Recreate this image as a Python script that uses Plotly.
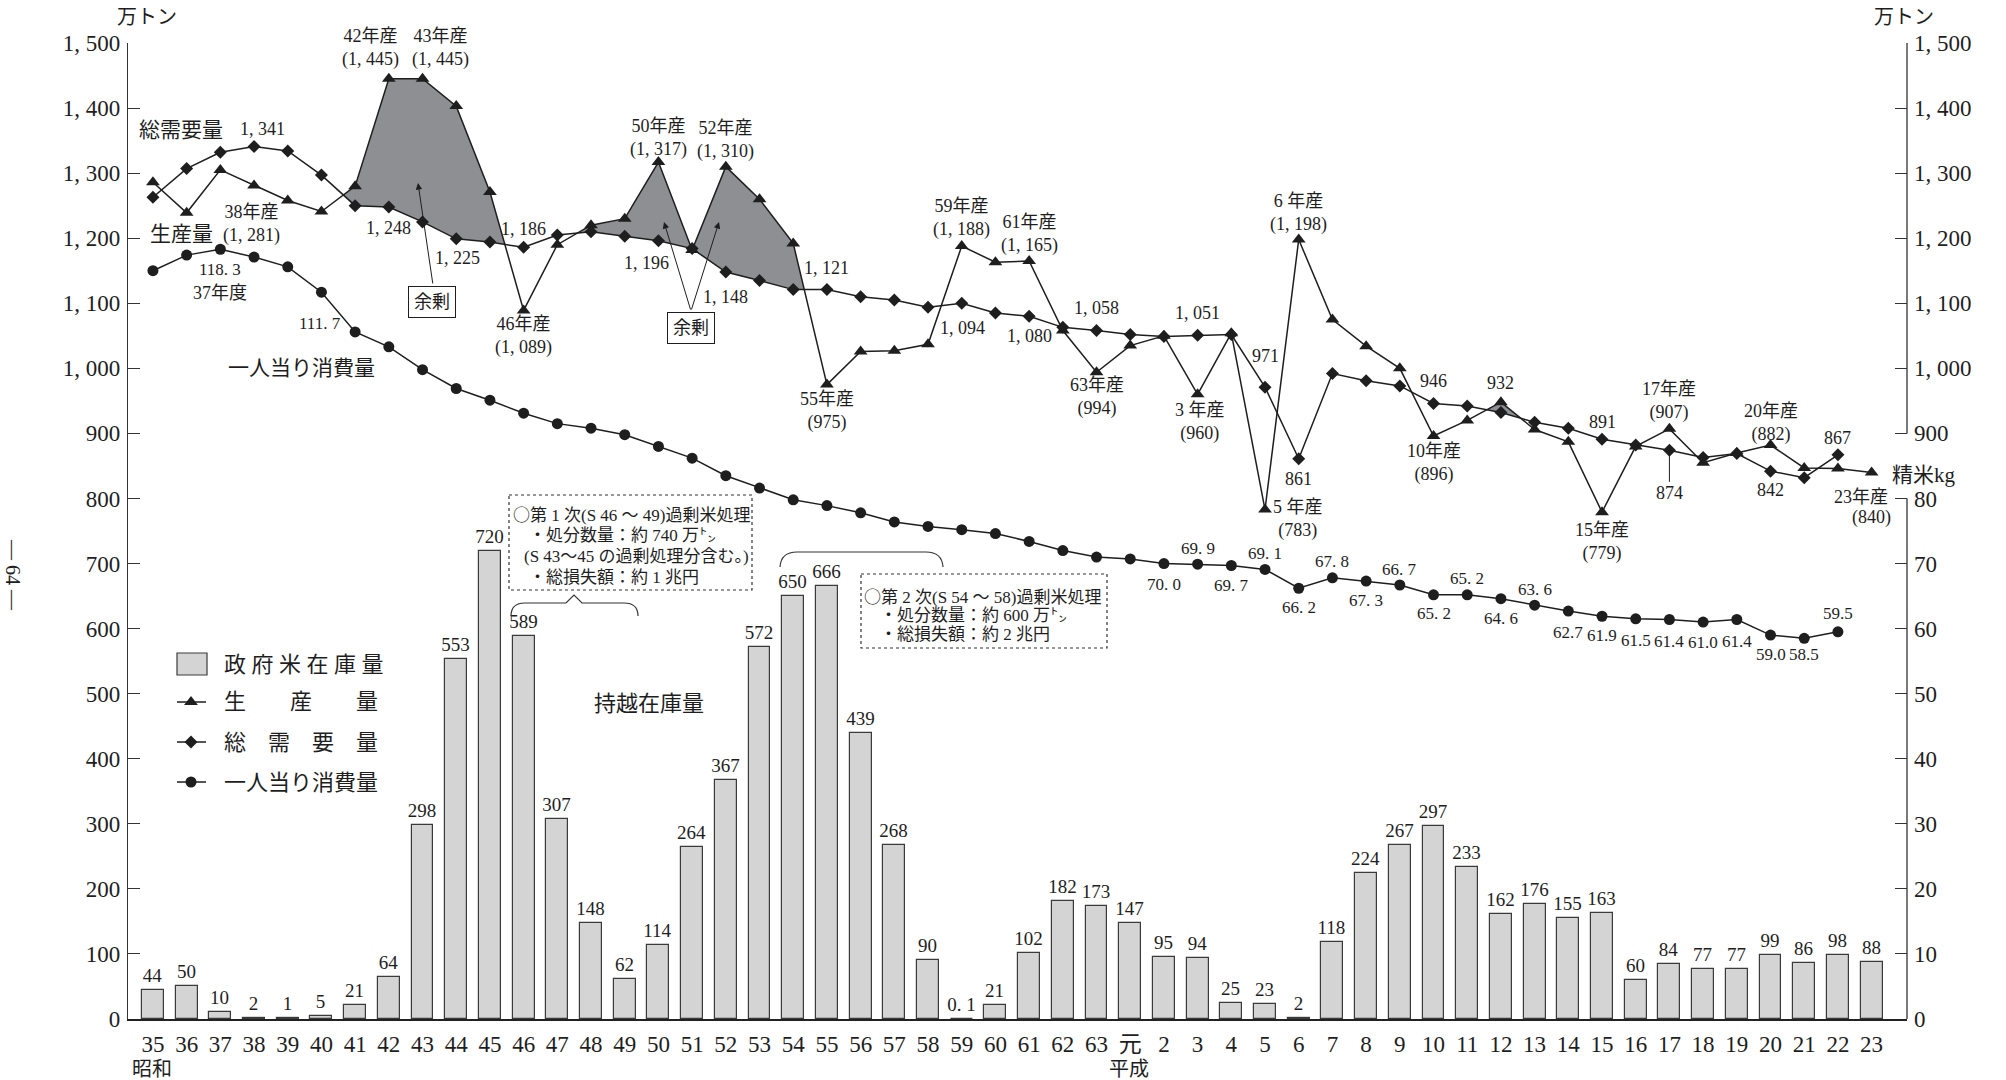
import plotly.graph_objects as go

# ---------------- data ----------------
years = [str(y) for y in range(35, 64)] + ["元"] + [str(y) for y in range(2, 24)]

# 政府米在庫量 (万トン)
stock = [44, 50, 10, 2, 1, 5, 21, 64, 298, 553, 720, 589, 307, 148, 62, 114, 264, 367, 572, 650,
         666, 439, 268, 90, 0.1, 21, 102, 182, 173, 147, 95, 94, 25, 23, 2, 118, 224, 267, 297, 233,
         162, 176, 155, 163, 60, 84, 77, 77, 99, 86, 98, 88]

# 生産量 (万トン)
production = [1286, 1239, 1305, 1281, 1258, 1241, 1280, 1445, 1445, 1403, 1271, 1089, 1190, 1220,
              1230, 1317, 1182, 1310, 1260, 1192, 975, 1026, 1027, 1037, 1188, 1163, 1165, 1058,
              994, 1035, 1050, 960, 1054, 783, 1198, 1075, 1034, 1000, 896, 920, 948, 906, 887,
              779, 880, 907, 855, 870, 882, 847, 846, 840]

# 総需要量 (万トン)
demand = [1263, 1307, 1332, 1341, 1334, 1297, 1250, 1248, 1225, 1199, 1194, 1186, 1205, 1210,
          1203, 1196, 1184, 1148, 1135, 1121, 1121, 1110, 1105, 1094, 1100, 1085, 1080, 1063,
          1058, 1052, 1049, 1051, 1052, 971, 861, 992, 981, 973, 946, 942, 932, 917, 908, 891,
          882, 874, 863, 869, 842, 832, 867, None]

# 一人当り消費量 (精米kg)
per_capita = [115.0, 117.4, 118.3, 117.1, 115.6, 111.7, 105.6, 103.3, 99.8, 96.9, 95.1, 93.1,
              91.5, 90.8, 89.8, 88.0, 86.2, 83.5, 81.6, 79.8, 78.9, 77.8, 76.4, 75.7, 75.2, 74.6,
              73.4, 72.0, 71.0, 70.7, 70.0, 69.9, 69.7, 69.1, 66.2, 67.8, 67.3, 66.7, 65.2, 65.2,
              64.6, 63.6, 62.7, 61.9, 61.5, 61.4, 61.0, 61.4, 59.0, 58.5, 59.5, None]

left_ticks = list(range(0, 1501, 100))
right_kg_ticks = list(range(0, 81, 10))
right_ton_ticks = list(range(90, 151, 10))   # on kg scale = 900..1500 万トン

surplus_windows = [("40", "55"), ("10", "13")]

# ---------------- layout geometry ----------------
W, H = 2006, 1080
L, R, T, B = 128, 1907, 43, 1019
XR = [-0.74, 52.05]
FONT = "Liberation Serif, Noto Sans CJK JP, serif"
INK = "#1e1e1e"
CIRC = "<span style='font-family:Noto Sans CJK JP'>○</span>"


def fmt(v):
    return f"{v:,}".replace(",", ", ")


def fx(x):
    return (x - L) / (R - L)


def fy(y):
    return (B - y) / (B - T)


idx = list(range(len(years)))


def hidx(y):
    if y == "元":
        return 29
    n = int(y)
    return n - 35 if n >= 35 else n + 28


fig = go.Figure()

# bars
bar_text = [f"{v:g}".replace(".", ". ") for v in stock]
fig.add_trace(go.Bar(
    x=idx, y=stock, width=0.65,
    marker=dict(color="#d4d4d4", line=dict(color="#3a3a3a", width=1.2)),
    text=bar_text, textposition="outside", constraintext="none", cliponaxis=False,
    textfont=dict(family=FONT, size=19, color=INK),
    showlegend=False, hoverinfo="skip"))


# surplus (余剰) shading between production and demand
def surplus_polygon(lo, hi):
    xt, yt, xb, yb = [], [], [], []
    for i in range(lo, hi + 1):
        p, d = production[i], demand[i]
        xt.append(i); yt.append(max(p, d))
        xb.append(i); yb.append(d)
        if i < hi:
            p2, d2 = production[i + 1], demand[i + 1]
            a, b = p - d, p2 - d2
            if a * b < 0:
                t = a / (a - b)
                xc, yc = i + t, d + t * (d2 - d)
                xt.append(xc); yt.append(yc)
                xb.append(xc); yb.append(yc)
    return xt + xb[::-1], yt + yb[::-1]


for a, b in surplus_windows:
    px_, py_ = surplus_polygon(hidx(a), hidx(b))
    fig.add_trace(go.Scatter(x=px_, y=py_, fill="toself", fillcolor="#8e8f93",
                             mode="lines", line=dict(width=0, color="#8e8f93"),
                             showlegend=False, hoverinfo="skip"))

fig.add_trace(go.Scatter(x=idx, y=production, mode="lines+markers",
                         line=dict(color=INK, width=1.5),
                         marker=dict(symbol="triangle-up", size=12, color=INK),
                         showlegend=False, hoverinfo="skip", cliponaxis=False))
fig.add_trace(go.Scatter(x=idx, y=demand, mode="lines+markers",
                         line=dict(color=INK, width=1.5),
                         marker=dict(symbol="diamond", size=10, color=INK),
                         showlegend=False, hoverinfo="skip", cliponaxis=False))
fig.add_trace(go.Scatter(x=idx, y=per_capita, mode="lines+markers", yaxis="y2",
                         line=dict(color=INK, width=1.5),
                         marker=dict(symbol="circle", size=11, color=INK),
                         showlegend=False, hoverinfo="skip", cliponaxis=False))

# manual legend markers (pixel-space overlay axes)
leg_rows = [664, 702, 742, 782]
for sym, sz, yy in [("triangle-up", 12, leg_rows[1]), ("diamond", 10, leg_rows[2]),
                    ("circle", 11, leg_rows[3])]:
    fig.add_trace(go.Scatter(x=[191], y=[yy], xaxis="x3", yaxis="y3", mode="markers",
                             marker=dict(symbol=sym, size=sz, color=INK),
                             showlegend=False, hoverinfo="skip"))

ann = []


def data_label(series, year, text, dx, dy, size=18, **kw):
    i = hidx(year)
    if series == "P":
        d = dict(x=i, y=production[i], xref="x", yref="y")
    elif series == "D":
        d = dict(x=i, y=demand[i], xref="x", yref="y")
    else:
        d = dict(x=i, y=per_capita[i], xref="x", yref="y2")
    d.update(text=text, xshift=dx, yshift=-dy, showarrow=False,
             xanchor="center", yanchor="middle",
             font=dict(family=FONT, size=size, color=INK))
    d.update(kw)
    ann.append(d)


def px_label(text, x, y, size=18, anchor="center", angle=0):
    ann.append(dict(x=fx(x), y=fy(y), xref="paper", yref="paper", text=text,
                    showarrow=False, xanchor=anchor, yanchor="middle", textangle=angle,
                    font=dict(family=FONT, size=size, color=INK)))


# production labels
prod_labels = [("42", "42", -18, -31), ("43", "43", 18, -31), ("38", "38", -3, 38),
               ("46", "46", 0, 26), ("50", "50", 0, -24), ("52", "52", 0, -27),
               ("55", "55", 0, 26), ("59", "59", 0, -28), ("61", "61", 0, -27),
               ("63", "63", 0, 25), ("3", "3 ", 2, 28), ("6", "6 ", 0, -27),
               ("5", "5 ", 33, 9), ("10", "10", 0, 27), ("15", "15", 0, 30),
               ("17", "17", 0, -28), ("20", "20", 0, -22)]
for y, yt, dx, dy in prod_labels:
    v = production[hidx(y)]
    data_label("P", y, f"{yt}年産<br>({fmt(v)})", dx, dy)
data_label("P", "23", "23年産", -11, 25)
data_label("P", "23", f"({fmt(production[hidx('23')])})", 0, 45)

# demand labels
dem_labels = [("38", 8, -17.5), ("42", 0, 21), ("43", 35, 36), ("46", 0, -18),
              ("50", -12, 22), ("52", 0, 25), ("55", 0, -21.6), ("58", 34, 21),
              ("61", 0, 20), ("63", 0, -22.6), ("3", 0, -22), ("5", 0, -31), ("6", 0, 20),
              ("10", 0, -22), ("12", 0, -30), ("15", 0, -17), ("20", 0, 19), ("22", 0, -17)]
for y, dx, dy in dem_labels:
    data_label("D", y, fmt(demand[hidx(y)]), dx, dy)
# 874 with a stem line
i17 = hidx("17")
ann.append(dict(x=i17, y=demand[i17], xref="x", yref="y", text=fmt(demand[i17]),
                showarrow=True, arrowhead=0, arrowwidth=1, arrowcolor=INK, ax=0, ay=43,
                standoff=0, font=dict(family=FONT, size=18, color=INK)))

# per capita labels
pc_spaced = [("37", 0, 20), ("40", -1.5, 31), ("2", 0, 21), ("3", 0, -16), ("4", 0, 20),
             ("5", 0, -16), ("6", 0, 19), ("7", 0, -16), ("8", 0, 19), ("9", 0, -16),
             ("10", 0, 19), ("11", 0, -16), ("12", 0, 20), ("13", 0, -16)]
pc_plain = [("14", 0, 21), ("15", 0, 19), ("16", 0, 22), ("17", 0, 22), ("18", 0, 20),
            ("19", 0, 22), ("20", 0, 19), ("21", 0, 16), ("22", 0, -18)]
for y, dx, dy in pc_spaced:
    data_label("C", y, f"{per_capita[hidx(y)]:.1f}".replace(".", ". "), dx, dy, size=17)
for y, dx, dy in pc_plain:
    data_label("C", y, f"{per_capita[hidx(y)]:.1f}", dx, dy, size=17)
data_label("C", "37", "37年度", 0, 44, size=18)

# free text labels
px_label("万トン", 147, 17, 20)
px_label("万トン", 1904, 17, 20)
px_label("総需要量", 181, 130, 21)
px_label("生産量", 181, 234, 21)
px_label("一人当り消費量", 301, 368, 21)
px_label("持越在庫量", 649, 703, 22)
px_label("精米kg", 1924, 475, 21)
px_label("昭和", 152, 1069, 20)
px_label("平成", 1129, 1069, 20)
px_label("— 64 —", 13, 575, 20, angle=90)

# legend texts
px_label("政 府 米 在 庫 量", 222, leg_rows[0], 22, anchor="left")
px_label("生　　産　　量", 222, leg_rows[1], 22, anchor="left")
px_label("総　需　要　量", 222, leg_rows[2], 22, anchor="left")
px_label("一人当り消費量", 222, leg_rows[3], 22, anchor="left")

# dotted box texts
box1 = [(CIRC + "第 1 次(S 46 ～ 49)過剰米処理", 511, 513),
        ("・処分数量：約 740 万㌧", 527, 535),
        ("(S 43～45 の過剰処理分含む。)", 522, 556),
        ("・総損失額：約 1 兆円", 527, 577)]
box2 = [(CIRC + "第 2 次(S 54 ～ 58)過剰米処理", 862, 595),
        ("・処分数量：約 600 万㌧", 878, 615),
        ("・総損失額：約 2 兆円", 878, 634)]
for t, x, y in box1 + box2:
    px_label(t, x, y, 17, anchor="left")

# 余剰 boxes and arrows
for cx, cy in [(432, 302), (691, 328)]:
    ann.append(dict(x=fx(cx), y=fy(cy), xref="paper", yref="paper", text="余剰",
                    xanchor="center", yanchor="middle",
                    showarrow=False, bordercolor=INK, borderwidth=1, borderpad=5,
                    bgcolor="white", font=dict(family=FONT, size=18, color=INK)))
for (bx, by), (tx, ty) in [((433, 285), (418, 183)), ((691, 311), (664, 222)),
                           ((691, 311), (719, 222))]:
    ann.append(dict(x=fx(tx), y=fy(ty), xref="paper", yref="paper", text="",
                    showarrow=True, arrowhead=2, arrowsize=1.3, arrowwidth=1,
                    arrowcolor=INK, ax=bx - tx, ay=by - ty, standoff=0))

# shapes
shapes = []
# broken right axis
for y0, y1 in [(0, 80), (90, 150)]:
    shapes.append(dict(type="line", xref="paper", yref="y2", x0=1, x1=1, y0=y0, y1=y1,
                       line=dict(color="#333", width=1.3)))
# dotted boxes
for x0, y0, x1, y1 in [(509, 495, 752, 590), (861, 574, 1107, 648)]:
    shapes.append(dict(type="rect", xref="paper", yref="paper", x0=fx(x0), x1=fx(x1),
                       y0=fy(y0), y1=fy(y1), line=dict(color="#333", width=1.2, dash="dot")))


def path(pts):
    s = ""
    for p in pts:
        if isinstance(p, str):
            s += p + " "
        else:
            s += f"{fx(p[0]):.5f},{fy(p[1]):.5f} "
    return s.strip()


brace1 = path(["M", (511, 616), "Q", (511, 603), (525, 603), "L", (566, 603), "L", (574, 595),
               "L", (582, 603), "L", (624, 603), "Q", (638, 603), (638, 616)])
brace2 = path(["M", (780, 567), "Q", (781, 552), (797, 552), "L", (926, 552), "Q", (942, 552),
               (943, 567)])
for p in (brace1, brace2):
    shapes.append(dict(type="path", xref="paper", yref="paper", path=p,
                       line=dict(color="#333", width=1.2)))
# legend box and lines
shapes.append(dict(type="rect", xref="paper", yref="paper", x0=fx(177), x1=fx(207),
                   y0=fy(675), y1=fy(653), fillcolor="#d4d4d4",
                   line=dict(color="#3a3a3a", width=1.2)))
for yy in leg_rows[1:]:
    shapes.append(dict(type="line", xref="paper", yref="paper", x0=fx(177), x1=fx(206),
                       y0=fy(yy), y1=fy(yy), line=dict(color=INK, width=1.5)))

tickfont = dict(family=FONT, size=23, color=INK)
fig.update_layout(
    width=W, height=H, autosize=False,
    margin=dict(l=L, r=W - R, t=T, b=H - B, pad=0),
    paper_bgcolor="white", plot_bgcolor="white",
    font=dict(family=FONT, color=INK),
    showlegend=False, bargap=0,
    xaxis=dict(range=XR, tickvals=idx, ticktext=years, showline=True, linecolor="#222",
               linewidth=1.6, ticks="", showgrid=False, zeroline=False, tickfont=tickfont,
               ticklabelstandoff=4, fixedrange=True),
    yaxis=dict(range=[0, 1500], tickvals=left_ticks, ticktext=[fmt(v) for v in left_ticks],
               showline=True, linecolor="#333", linewidth=1.3, ticks="inside", ticklen=12,
               tickcolor="#333", tickwidth=1.2, showgrid=False, zeroline=False,
               tickfont=tickfont, ticklabelstandoff=2),
    yaxis2=dict(range=[0, 150], overlaying="y", side="right", anchor="x",
                tickvals=right_kg_ticks + right_ton_ticks,
                ticktext=[str(v) for v in right_kg_ticks] + [fmt(v * 10) for v in right_ton_ticks],
                showline=False, ticks="inside", ticklen=12, tickcolor="#333", tickwidth=1.2,
                showgrid=False, zeroline=False, tickfont=tickfont, ticklabelstandoff=6),
    xaxis3=dict(range=[L, R], overlaying="x", anchor="y3", visible=False),
    yaxis3=dict(range=[B, T], overlaying="y", anchor="x3", visible=False),
    annotations=ann, shapes=shapes,
)

fig.write_html("out.html", config={"displayModeBar": False},
               post_script="document.body.style.margin='0';document.body.style.overflow='hidden';")
